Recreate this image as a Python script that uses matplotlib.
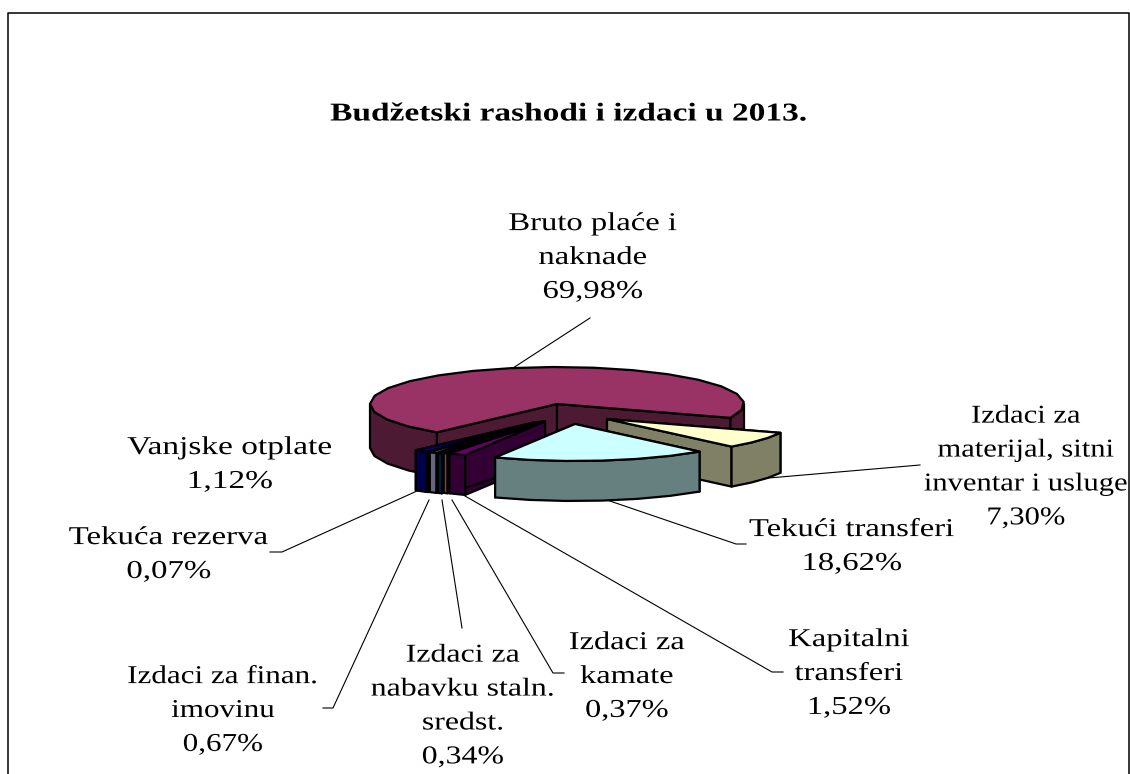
import numpy as np
import matplotlib.pyplot as plt
from matplotlib.patches import Polygon
from matplotlib.patheffects import AbstractPathEffect
from matplotlib.transforms import Affine2D

labels = ['Bruto plaće i\nnaknade', 'Izdaci za\nmaterijal, sitni\ninventar i usluge', 'Tekući transferi',
          'Kapitalni\ntransferi', 'Izdaci za\nkamate', 'Izdaci za\nnabavku staln.\nsredst.',
          'Izdaci za finan.\nimovinu', 'Tekuća rezerva', 'Vanjske otplate']
values = [69.98, 7.30, 18.62, 1.52, 0.37, 0.34, 0.67, 0.07, 1.12]
top_colors = ['#993366', '#FFFFCC', '#CCFFFF', '#660066', '#FF8080', '#0066CC', '#CCCCFF', '#000080', '#000099']
side_colors = ['#4D1A33', '#808066', '#668080', '#330033', '#804040', '#003366', '#666680', '#000040', '#00004D']

# pie geometry in image pixels
cx, cy = 557, 404
rx, ry = 187, 37
start = 230
off_x = [0, 50, 18, -12, -14, -16, -18, -20, -21]
off_y = [0, 15, 20, 17.5, 17.5, 18, 18, 18, 18]
depth = [44, 40, 40, 40, 40, 40, 40, 40, 40]
draw_order = [0, 1, 8, 7, 6, 5, 4, 3, 2]

# where each label goes (centre of text block) and how much it is widened
label_x = [593, 1026, 852, 849, 627, 463, 223, 169, 230]
label_y = [258, 467.5, 547, 674, 677, 706.5, 711, 555, 465]
label_k = [1.27, 1.19, 1.27, 1.27, 1.26, 1.24, 1.21, 1.28, 1.30]

# leader lines
leaders = [[(590, 318), (513, 368)],
           [(757, 479), (920, 465)],
           [(607, 500), (736, 544), (746, 544)],
           [(465, 496), (772, 672), (783, 672)],
           [(452, 500), (553, 673), (564, 673)],
           [(442, 500), (462, 628)],
           [(429, 500), (333, 708), (323, 708)],
           [(417, 491), (282, 552), (270, 552)]]


class StretchX(AbstractPathEffect):
    # the reference text is wider than the font, stretch it around its centre
    def __init__(self, x0, k):
        self.x0 = x0
        self.k = k

    def draw_path(self, renderer, gc, tpath, affine, rgbFace=None):
        t = affine + Affine2D().translate(-self.x0, 0).scale(self.k, 1).translate(self.x0, 0)
        renderer.draw_path(gc, tpath, t, rgbFace)


fig = plt.figure(figsize=(11.3, 7.74), dpi=100)
ax = fig.add_axes([0, 0, 1, 1])
ax.set_xlim(0, 1130)
ax.set_ylim(774, 0)
ax.axis('off')

plt.rcParams['font.family'] = ['Liberation Serif', 'DejaVu Serif']


def arc(x0, y0, a, b):
    n = max(2, int(abs(a - b) / 13) + 2)
    t = np.radians(np.linspace(a, b, n))
    return x0 + rx * np.cos(t), y0 - ry * np.sin(t)


def face(xs, ys, color, z):
    ax.add_patch(Polygon(np.column_stack([xs, ys]), closed=True, facecolor=color,
                         edgecolor='black', lw=1.6, joinstyle='round', zorder=z))


ends = start - np.cumsum(values) / sum(values) * 360
begins = np.r_[start, ends[:-1]]

z = 2
for i in draw_order:
    a, b = begins[i], ends[i]
    x0, y0 = cx + off_x[i], cy + off_y[i]
    d = depth[i]
    xa, ya = arc(x0, y0, a, b)
    # radial walls
    face([x0, xa[0], xa[0], x0], [y0, ya[0], ya[0] + d, y0 + d], side_colors[i], z)
    face([x0, xa[-1], xa[-1], x0], [y0, ya[-1], ya[-1] + d, y0 + d], side_colors[i], z)
    # outer wall, only the part facing us
    for lo, hi in [(180, 360), (-180, 0)]:
        s, e = min(a, hi), max(b, lo)
        if s > e:
            xs, ys = arc(x0, y0, s, e)
            face(np.r_[xs, xs[::-1]], np.r_[ys, ys[::-1] + d], side_colors[i], z)
    # top
    face(np.r_[x0, xa], np.r_[y0, ya], top_colors[i], z + 0.5)
    z += 1

for pts in leaders:
    ax.plot([p[0] for p in pts], [p[1] for p in pts], color='black', lw=0.8, zorder=1)

for i in range(len(values)):
    pct = ('%.2f%%' % values[i]).replace('.', ',')
    ax.text(label_x[i], label_y[i], labels[i] + '\n' + pct, ha='center', va='center',
            fontsize=18.5, linespacing=1.7, color='black', zorder=30,
            path_effects=[StretchX(label_x[i], label_k[i])])

ax.text(570, 114, 'Budžetski rashodi i izdaci u 2013.', ha='center', va='center',
        fontsize=18.5, fontweight='bold', color='black', path_effects=[StretchX(570, 1.30)])

# chart frame, cut off by the bottom of the page
ax.plot([8, 8, 1128.5, 1128.5], [774, 13, 13, 774], color='black', lw=1.1, zorder=1)

fig.savefig('out.png', dpi=100)
